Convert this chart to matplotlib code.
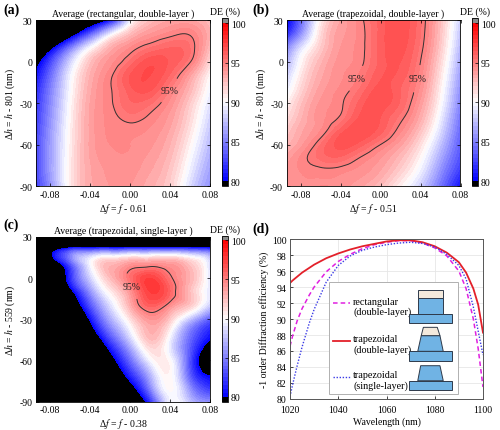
import numpy as np
import matplotlib
matplotlib.use('Agg')
import matplotlib.pyplot as plt
import matplotlib.tri as mtri
from matplotlib.patches import Rectangle, Polygon
from matplotlib.ticker import FormatStrFormatter

plt.rcParams['font.family'] = ['Liberation Serif', 'DejaVu Serif']
plt.rcParams['mathtext.fontset'] = 'stix'
plt.rcParams['axes.unicode_minus'] = False
plt.rcParams['font.size'] = 7

df_grid = [-0.10, -0.08, -0.06, -0.04, -0.02, 0.00, 0.02, 0.04, 0.06, 0.08]
dh_grid = [30, 20, 10, 0, -10, -20, -30, -40, -50, -60, -70, -80, -90]

# (a) rectangular, double-layer
de_rect_double = [
    [62.0, 67.0, 72.0, 76.5, 80.5, 89.0, 92.5, 93.5, 93.5, 92.5],
    [67.0, 72.5, 78.0, 83.5, 89.0, 92.5, 94.0, 94.7, 94.9, 93.0],
    [73.0, 78.8, 84.5, 89.6, 93.0, 94.5, 95.5, 96.0, 95.5, 92.5],
    [77.5, 82.5, 88.0, 92.3, 94.2, 95.6, 96.8, 96.4, 95.1, 91.5],
    [79.0, 84.0, 89.3, 93.0, 94.8, 96.5, 97.0, 95.9, 93.6, 90.2],
    [80.0, 84.8, 89.7, 93.3, 94.9, 96.3, 96.6, 95.0, 92.8, 89.5],
    [80.5, 85.2, 90.0, 93.5, 94.85, 95.9, 95.6, 94.3, 92.0, 88.8],
    [80.8, 85.5, 90.2, 93.6, 94.7, 95.3, 94.85, 93.8, 91.5, 88.2],
    [81.0, 85.8, 90.4, 93.6, 94.6, 94.7, 94.4, 93.4, 91.0, 87.7],
    [81.5, 86.0, 90.5, 93.6, 94.5, 94.5, 94.1, 93.0, 90.4, 87.2],
    [81.5, 86.0, 90.6, 93.5, 94.3, 94.4, 93.8, 92.6, 89.8, 86.7],
    [81.5, 86.0, 90.7, 93.4, 94.1, 94.2, 93.5, 92.2, 89.2, 86.2],
    [81.5, 85.5, 90.7, 93.3, 94.0, 94.0, 93.2, 91.9, 88.6, 85.7],
]

# (b) trapezoidal, double-layer
de_trap_double = [
    [78.0, 84.0, 90.5, 93.5, 94.8, 96.2, 96.8, 95.6, 92.5, 88.0],
    [80.0, 85.5, 91.3, 93.8, 94.7, 96.2, 96.8, 95.5, 92.3, 87.5],
    [83.5, 88.5, 92.0, 94.0, 94.75, 96.2, 96.7, 95.3, 92.0, 87.0],
    [85.0, 90.0, 92.8, 94.2, 94.8, 96.2, 96.5, 95.0, 91.5, 86.5],
    [86.5, 90.8, 93.3, 94.4, 95.15, 96.4, 96.3, 94.7, 91.0, 86.0],
    [88.0, 91.5, 93.7, 94.6, 95.6, 96.7, 96.0, 94.3, 90.5, 85.5],
    [89.5, 92.3, 94.1, 94.85, 96.2, 96.8, 95.9, 93.8, 90.0, 85.0],
    [90.5, 92.8, 94.3, 95.1, 96.6, 96.5, 95.3, 93.2, 89.3, 84.5],
    [91.5, 93.3, 94.5, 96.2, 96.9, 96.2, 94.6, 92.3, 88.5, 84.0],
    [92.5, 93.8, 95.5, 96.7, 96.2, 95.0, 93.6, 91.2, 87.5, 83.5],
    [93.3, 94.6, 95.6, 95.8, 94.9, 94.0, 92.6, 90.2, 86.5, 83.0],
    [93.8, 94.5, 94.7, 94.6, 94.2, 93.4, 91.7, 89.2, 85.5, 82.0],
    [93.8, 94.3, 94.5, 94.3, 93.6, 92.5, 90.5, 88.0, 84.5, 80.5],
]

# (c) trapezoidal, single-layer
de_trap_single = [
    [55.0, 58.0, 60.0, 60.0, 60.0, 60.0, 60.0, 60.0, 60.0, 60.0],
    [70.0, 78.0, 83.0, 84.0, 84.5, 85.0, 85.0, 85.0, 84.5, 83.5],
    [69.0, 76.0, 83.0, 89.5, 92.8, 94.0, 94.3, 94.0, 92.3, 88.5],
    [66.0, 73.0, 81.5, 88.0, 92.5, 95.5, 97.5, 95.3, 93.0, 89.0],
    [65.0, 72.0, 78.8, 85.5, 90.5, 94.0, 97.5, 96.0, 92.5, 89.0],
    [62.0, 69.0, 76.0, 83.0, 88.5, 93.0, 96.2, 94.3, 92.0, 88.0],
    [59.0, 66.0, 73.0, 80.3, 86.5, 91.0, 94.0, 92.0, 87.5, 83.5],
    [56.0, 63.0, 70.0, 77.5, 84.0, 89.0, 93.0, 90.0, 84.5, 81.0],
    [53.0, 60.0, 67.0, 74.0, 81.0, 86.5, 91.5, 89.0, 83.5, 78.5],
    [50.0, 57.0, 64.0, 71.0, 78.2, 84.0, 89.5, 90.0, 83.0, 76.0],
    [48.0, 54.0, 61.0, 68.0, 75.5, 81.5, 87.0, 90.3, 83.5, 79.5],
    [46.0, 52.0, 58.0, 65.0, 72.5, 78.5, 85.0, 90.2, 85.5, 82.0],
    [44.0, 50.0, 56.0, 62.0, 69.0, 75.5, 81.7, 89.5, 87.5, 85.5],
]

# (d) spectra
wavelength = [1020, 1021, 1023, 1025, 1028, 1030, 1035, 1040, 1045, 1050, 1055,
              1060, 1065, 1070, 1075, 1080, 1085, 1090, 1093, 1096, 1098, 1100]
eff_rect_double = [86.6, 87.8, 89.8, 91.3, 93.0, 94.0, 95.9, 97.2, 98.1, 98.8, 99.3,
                   99.6, 99.8, 99.8, 99.5, 98.9, 97.9, 96.0, 93.8, 90.0, 86.3, 81.5]
eff_trap_double = [94.5, 94.8, 95.3, 95.8, 96.4, 96.8, 97.6, 98.2, 98.7, 99.1, 99.4,
                   99.7, 99.85, 99.85, 99.6, 99.1, 98.3, 97.1, 95.8, 93.8, 91.8, 88.3]
eff_trap_single = [80.3, 81.7, 84.2, 86.5, 89.5, 91.2, 94.6, 96.7, 97.9, 98.6, 99.0,
                   99.3, 99.5, 99.6, 99.45, 99.0, 98.1, 96.7, 95.0, 91.5, 88.5, 85.5]

de_levels = np.arange(80, 100.01, 0.5)
de_cmap = plt.get_cmap('bwr').copy()
de_cmap.set_under('black')
de_cmap.set_over('#8c8c8c')


def draw_map(fig, box, cbox, de, title, xlab, ylab, label_at):
    ax = fig.add_axes(box)
    xx, yy = np.meshgrid(np.array(df_grid) * 1000, dh_grid)
    tri = mtri.Triangulation(xx.ravel(), yy.ravel())
    refiner = mtri.UniformTriRefiner(tri)
    tri_fine, de_fine = refiner.refine_field(np.array(de, float).ravel(), subdiv=3)
    tri_fine = mtri.Triangulation(tri_fine.x / 1000, tri_fine.y, tri_fine.triangles)
    cf = ax.tricontourf(tri_fine, de_fine, levels=de_levels, cmap=de_cmap, extend='both')
    cs = ax.tricontour(tri_fine, de_fine, levels=[95], colors='#333333', linewidths=0.7)
    labels = ax.clabel(cs, fmt='%d%%', manual=label_at, inline=True, fontsize=7,
                       colors='#222222')
    for t in labels:
        t.set_rotation(0)

    ax.set_xlim(-0.094, 0.08)
    ax.set_ylim(-90, 30)
    ax.set_xticks([-0.08, -0.04, 0.0, 0.04, 0.08])
    ax.set_yticks([-90, -60, -30, 0, 30])
    ax.xaxis.set_major_formatter(FormatStrFormatter('%.2f'))
    ax.tick_params(direction='in', top=True, right=True, length=2.5, width=0.5,
                   labelsize=7, pad=2.5)
    for s in ax.spines.values():
        s.set_linewidth(0.6)
    ax.set_title(title, fontsize=7, pad=3)
    ax.set_xlabel(xlab, fontsize=7, labelpad=1.5)
    ax.set_ylabel(ylab, fontsize=7, labelpad=1.5)

    cax = fig.add_axes(cbox)
    cb = fig.colorbar(cf, cax=cax, ticks=[80, 85, 90, 95, 100],
                      extendrect=True, extendfrac=0.03)
    cb.ax.tick_params(direction='in', length=2, width=0.5, labelsize=7, pad=2)
    cb.outline.set_linewidth(0.6)
    cax.set_title('DE (%)', fontsize=7, pad=3)
    return ax


fig = plt.figure(figsize=(5, 4.31), dpi=100)

draw_map(fig, [0.072, 0.566, 0.348, 0.385], [0.443, 0.566, 0.0135, 0.389],
         de_rect_double, 'Average (rectangular, double-layer )',
         r'Δ$f$ = $f$ - 0.61', r'Δ$h$ = $h$ - 801 (nm)', [(0.044, -23)])
draw_map(fig, [0.573, 0.566, 0.348, 0.385], [0.943, 0.566, 0.0135, 0.389],
         de_trap_double, 'Average (trapezoidal, double-layer )',
         r'Δ$f$ = $f$ - 0.51', r'Δ$h$ = $h$ - 801 (nm)', [(-0.023, -12.5), (0.037, -12.5)])
draw_map(fig, [0.072, 0.066, 0.348, 0.382], [0.443, 0.066, 0.0135, 0.385],
         de_trap_single, 'Average (trapezoidal, single-layer )',
         r'Δ$f$ = $f$ - 0.38', r'Δ$h$ = $h$ - 559 (nm)', [(0.0, -6.6)])

# (d) spectra
axd = fig.add_axes([0.58, 0.072, 0.386, 0.371])
axd.plot(wavelength, eff_rect_double, color='#E020E0', ls=(0, (3, 2)), lw=1.1)
axd.plot(wavelength, eff_trap_double, color='#E3202A', lw=1.3)
axd.plot(wavelength, eff_trap_single, color='#3B3BE6', ls=(0, (1, 1.2)), lw=1.0)
axd.set_xlim(1020, 1100)
axd.set_ylim(80, 100)
axd.set_xticks(range(1020, 1101, 20))
axd.set_yticks(range(80, 101, 2))
axd.grid(color='#e6e6e6', lw=0.6)
axd.set_axisbelow(True)
axd.tick_params(direction='in', length=2, width=0.5, labelsize=7, pad=2.5)
axd.tick_params(axis='x', pad=4)
for s in axd.spines.values():
    s.set_linewidth(0.7)
    s.set_color('#555555')
axd.set_xlabel('Wavelength (nm)', fontsize=7, labelpad=2)
axd.set_ylabel('-1 order Diffraction efficiency (%)', fontsize=7, labelpad=2)

# legend box with grating sketches
T = axd.transAxes
axd.add_patch(Rectangle((0.204, 0.031), 0.668, 0.698, transform=T, facecolor='white',
                        edgecolor='#b0b0b0', lw=0.7, zorder=4))
entries = [
    ('rectangular\n(double-layer)', '#E020E0', (0, (3, 2)), 1.1, 0.598),
    ('trapezoidal\n(double-layer)', '#E3202A', '-', 1.3, 0.365),
    ('trapezoidal\n(single-layer)', '#3B3BE6', (0, (1, 1.2)), 1.0, 0.139),
]
for text, col, ls, lw, yy in entries:
    axd.plot([0.224, 0.311], [yy, yy], transform=T, color=col, ls=ls, lw=lw, zorder=5)
    axd.text(0.328, yy + 0.04, text, transform=T, fontsize=7.3, va='top',
             linespacing=1.1, zorder=5)

blue = '#70B3E4'
beige = '#F3E9DC'
edge = '#2E3A4A'
icons = [
    [((0.618, 0.473), (0.838, 0.473), (0.838, 0.531), (0.618, 0.531)), blue],
    [((0.662, 0.531), (0.791, 0.531), (0.791, 0.629), (0.662, 0.629)), blue],
    [((0.662, 0.629), (0.791, 0.629), (0.791, 0.681), (0.662, 0.681)), beige],
    [((0.618, 0.239), (0.838, 0.239), (0.838, 0.298), (0.618, 0.298)), blue],
    [((0.662, 0.298), (0.794, 0.298), (0.777, 0.396), (0.680, 0.396)), blue],
    [((0.680, 0.396), (0.777, 0.396), (0.763, 0.448), (0.691, 0.448)), beige],
    [((0.618, 0.056), (0.838, 0.056), (0.838, 0.114), (0.618, 0.114)), blue],
    [((0.662, 0.114), (0.794, 0.114), (0.777, 0.208), (0.677, 0.208)), blue],
]
for pts, col in icons:
    axd.add_patch(Polygon(pts, closed=True, transform=T, facecolor=col,
                          edgecolor=edge, lw=0.7, zorder=5))

for lab, x, y in [('(a)', 0.006, 0.993), ('(b)', 0.504, 0.993),
                  ('(c)', 0.006, 0.494), ('(d)', 0.504, 0.483)]:
    fig.text(x, y, lab, fontsize=10, weight='bold', va='top')

fig.savefig('out.png', dpi=100)
